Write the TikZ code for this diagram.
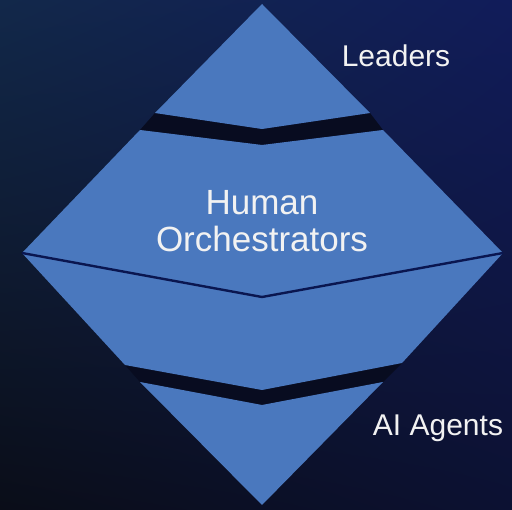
\documentclass[tikz,border=0pt]{standalone}
\usepackage{fontspec}
\setmainfont{Liberation Sans}
\usetikzlibrary{shadings}
\definecolor{bgUL}{HTML}{12284A}
\definecolor{bgUR}{HTML}{111C5A}
\definecolor{bgLL}{HTML}{0A0D18}
\definecolor{bgLR}{HTML}{0C1132}
\definecolor{tierblue}{HTML}{4A78BE}
\definecolor{gapdark}{HTML}{080C20}
\definecolor{divline}{HTML}{0A1650}
\definecolor{txtwhite}{HTML}{F2F2F2}
\tikzset{
  tier/.style={fill=tierblue, draw=none},
  gap/.style={fill=gapdark, draw=none},
  label/.style={text=txtwhite, inner sep=0pt, font=\fontsize{30}{36}\selectfont},
  bigtext/.style={text=txtwhite, inner sep=0pt, align=center, font=\fontsize{35}{37}\selectfont}
}
\begin{document}
\begin{tikzpicture}[x=1pt, y=-1pt]
\useasboundingbox (0,0) rectangle (512,510);
\shade[upper left=bgUL, upper right=bgUR, lower left=bgLL, lower right=bgLR] (0,0) rectangle (512,510);
% dark gaps
\fill[gap] (155,113) -- (262,129) -- (370,113) -- (383,130) -- (262,145) -- (140,130) -- cycle;
\fill[gap] (125,365) -- (262,390) -- (402,363) -- (383,382) -- (262,405) -- (140,382) -- cycle;
% top tier
\fill[tier] (262,4) -- (370,113) -- (262,129) -- (155,113) -- cycle;
% middle tier
\fill[tier] (140,130) -- (262,145) -- (383,130) -- (503,253) -- (402,363) -- (262,390) -- (125,365) -- (22,253) -- cycle;
\draw[divline, line width=2.4pt] (22,253) -- (262,297) -- (503,253);
% bottom tier
\fill[tier] (140,382) -- (262,405) -- (383,382) -- (262,505) -- cycle;
% texts
\node[label, anchor=base] (leaders) at (396,67) {Leaders};
\node[bigtext, anchor=base] (human) at (262,215) {Human};
\node[bigtext, anchor=base] (orch) at (262,252) {Orchestrators};
\node[label, anchor=base] (agents) at (438,436) {AI Agents};
\end{tikzpicture}
\end{document}
